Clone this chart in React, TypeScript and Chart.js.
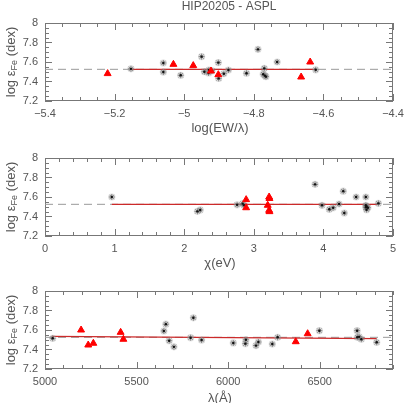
import React, { useEffect, useRef } from "react";
import { Chart, registerables } from "chart.js";
Chart.register(...registerables);

const FONT = "'Liberation Sans', 'DejaVu Sans', sans-serif";
const TEXT = "#555";

const chartTitle = "HIP20205 - ASPL";
const meanFe = 7.525;
const yLimits = [7.2, 8];
const yTicks = [7.2, 7.4, 7.6, 7.8, 8];

// Panel 1: log(EW/lambda)
const ewLimits = [-5.4, -4.4];
const ewTicks = [-5.4, -5.2, -5, -4.8, -4.6, -4.4];
const ewStarX = [-5.153, -5.06, -5.06, -5.01, -4.95, -4.942, -4.93, -4.929, -4.92, -4.902, -4.901, -4.886, -4.873, -4.821, -4.788, -4.773, -4.77, -4.768, -4.765, -4.733, -4.622];
const ewStarY = [7.53, 7.59, 7.497, 7.464, 7.655, 7.5, 7.487, 7.518, 7.51, 7.594, 7.432, 7.48, 7.518, 7.485, 7.73, 7.475, 7.535, 7.46, 7.45, 7.6, 7.52];
const ewTriX = [-5.22, -5.031, -4.974, -4.923, -4.902, -4.664, -4.638];
const ewTriY = [7.481, 7.576, 7.563, 7.508, 7.47, 7.446, 7.6];
const ewFitX = [-5.153, -4.622];
const ewFitY = [7.525, 7.525];

// Panel 2: excitation potential chi (eV)
const chiLimits = [0, 5];
const chiTicks = [0, 1, 2, 3, 4, 5];
const chiStarX = [0.96, 2.19, 2.23, 2.76, 2.84, 2.86, 3.88, 3.98, 4.085, 4.14, 4.225, 4.285, 4.3, 4.47, 4.61, 4.61, 4.61, 4.62, 4.62, 4.64, 4.79];
const chiStarY = [7.6, 7.453, 7.467, 7.52, 7.532, 7.515, 7.73, 7.515, 7.474, 7.49, 7.528, 7.66, 7.436, 7.6, 7.6, 7.515, 7.495, 7.47, 7.505, 7.49, 7.535];
const chiTriX = [2.89, 2.89, 3.2, 3.22, 3.225, 3.22, 3.225];
const chiTriY = [7.573, 7.49, 7.515, 7.6, 7.585, 7.464, 7.45];
const chiFitX = [0.96, 4.79];
const chiFitY = [7.525, 7.525];

// Panel 3: wavelength (Angstrom)
const lamLimits = [5000, 6900];
const lamTicks = [5000, 5500, 6000, 6500];
const lamStarX = [5042, 5649, 5660, 5678, 5704, 5795, 5810, 5855, 6028, 6094, 6097, 6152, 6165, 6241, 6270, 6498, 6704, 6705, 6715, 6727, 6811];
const lamStarY = [7.515, 7.59, 7.66, 7.49, 7.427, 7.521, 7.725, 7.497, 7.467, 7.46, 7.5, 7.44, 7.477, 7.456, 7.525, 7.593, 7.593, 7.525, 7.53, 7.505, 7.474];
const lamTriX = [5197, 5236, 5264, 5413, 5428, 6369, 6434];
const lamTriY = [7.6, 7.446, 7.464, 7.576, 7.505, 7.48, 7.562];
const lamFitX = [5036, 6811];
const lamFitY = [7.535, 7.511];

const pts = (xs: number[], ys: number[]) => xs.map((x, i) => ({ x, y: ys[i] }));

const fmt = (v: number) => {
  const r = Math.round(v * 1000) / 1000;
  return String(r).replace("-", "\u2212");
};

const framePlugin = {
  id: "frame",
  beforeDatasetsDraw(chart: any, _a: any, opts: any) {
    const { ctx, chartArea: a, scales } = chart;
    ctx.save();
    ctx.strokeStyle = "#777";
    ctx.lineWidth = 1;
    ctx.strokeRect(a.left + 0.5, a.top + 0.5, a.right - a.left - 1, a.bottom - a.top - 1);
    const line = (x1: number, y1: number, x2: number, y2: number) => {
      ctx.beginPath();
      ctx.moveTo(x1, y1);
      ctx.lineTo(x2, y2);
      ctx.stroke();
    };
    const drawTicks = (sc: any, minor: number, major: number, horiz: boolean) => {
      const n0 = Math.ceil(sc.min / minor - 1e-6);
      const n1 = Math.floor(sc.max / minor + 1e-6);
      for (let n = n0; n <= n1; n++) {
        const v = n * minor;
        const q = v / major;
        const isMajor = Math.abs(q - Math.round(q)) < 1e-6;
        const len = isMajor ? 7 : 4;
        const p = Math.round(sc.getPixelForValue(v)) + 0.5;
        if (horiz) {
          line(p, a.bottom, p, a.bottom - len);
          line(p, a.top, p, a.top + len);
        } else {
          line(a.left, p, a.left + len, p);
          line(a.right, p, a.right - len, p);
        }
      }
    };
    drawTicks(scales.x, opts.xMinor, opts.xMajor, true);
    drawTicks(scales.y, 0.05, 0.2, false);
    ctx.restore();
  },
  afterDraw(chart: any, _a: any, opts: any) {
    const { ctx, chartArea: a } = chart;
    ctx.save();
    ctx.fillStyle = TEXT;
    ctx.textAlign = "center";
    ctx.textBaseline = "middle";
    const cx = (a.left + a.right) / 2;
    if (opts.title) {
      ctx.font = `12px ${FONT}`;
      ctx.fillText(opts.title, cx + 10, 7);
    }
    ctx.font = `13px ${FONT}`;
    ctx.fillText(opts.xLabel, cx + 1, opts.xLabelY);
    const cy = (a.top + a.bottom) / 2;
    ctx.translate(11, cy);
    ctx.rotate(-Math.PI / 2);
    const big = `13px ${FONT}`;
    const small = `9px ${FONT}`;
    const p1 = "log \u03b5";
    const p2 = "Fe";
    const p3 = " (dex)";
    ctx.font = big;
    const w1 = ctx.measureText(p1).width;
    const w3 = ctx.measureText(p3).width;
    ctx.font = small;
    const w2 = ctx.measureText(p2).width;
    let x = -(w1 + w2 + w3) / 2;
    ctx.textAlign = "left";
    ctx.font = big;
    ctx.fillText(p1, x, 0);
    x += w1;
    ctx.font = small;
    ctx.fillText(p2, x, 4);
    x += w2;
    ctx.font = big;
    ctx.fillText(p3, x, 0);
    ctx.restore();
  },
};

type PanelProps = {
  top: number;
  limits: number[];
  ticks: number[];
  xMajor: number;
  xMinor: number;
  starX: number[];
  starY: number[];
  triX: number[];
  triY: number[];
  fitX: number[];
  fitY: number[];
  xLabel: string;
  xLabelY: number;
  title?: string;
};

function Panel(p: PanelProps) {
  const ref = useRef<HTMLCanvasElement>(null);
  useEffect(() => {
    if (!ref.current) return;
    const stars = pts(p.starX, p.starY);
    const tris = pts(p.triX, p.triY);
    const chart = new Chart(ref.current, {
      type: "scatter",
      data: {
        datasets: [
          {
            data: pts(p.limits, [meanFe, meanFe]),
            showLine: true,
            borderColor: "#9a9a9a",
            borderWidth: 1,
            borderDash: [8, 5],
            pointRadius: 0,
            order: 6,
          } as any,
          {
            data: pts(p.fitX, p.fitY),
            showLine: true,
            borderColor: "#cc2a2a",
            borderWidth: 1.3,
            pointRadius: 0,
            order: 5,
          } as any,
          {
            data: stars,
            pointStyle: "circle",
            pointRadius: 3.6,
            backgroundColor: "rgba(140,140,140,0.3)",
            borderWidth: 0,
            order: 4,
          } as any,
          {
            data: stars,
            pointStyle: "star",
            pointRadius: 3,
            borderColor: "#888",
            borderWidth: 1,
            order: 3,
          } as any,
          {
            data: stars,
            pointStyle: "circle",
            pointRadius: 1.2,
            backgroundColor: "#111",
            borderWidth: 0,
            order: 2,
          } as any,
          {
            data: tris,
            pointStyle: "triangle",
            pointRadius: 4,
            backgroundColor: "#ff0000",
            borderColor: "#ff0000",
            borderWidth: 1,
            order: 1,
          } as any,
        ],
      },
      options: {
        responsive: false,
        animation: false,
        devicePixelRatio: 1,
        events: [],
        layout: { padding: { top: 23, right: 22, left: 0, bottom: 0 } },
        plugins: {
          legend: { display: false },
          tooltip: { enabled: false },
          title: { display: false },
          frame: { xMajor: p.xMajor, xMinor: p.xMinor, xLabel: p.xLabel, xLabelY: p.xLabelY, title: p.title },
        } as any,
        scales: {
          x: {
            type: "linear",
            min: p.limits[0],
            max: p.limits[1],
            grid: { display: false, drawTicks: false },
            border: { display: false },
            afterBuildTicks: (s: any) => {
              s.ticks = p.ticks.map((v) => ({ value: v }));
            },
            ticks: {
              padding: 6,
              maxRotation: 0,
              autoSkip: false,
              color: TEXT,
              font: { family: FONT, size: 11 },
              callback: (v: any) => fmt(Number(v)),
            },
            afterFit: (s: any) => {
              s.height = 34;
            },
          },
          y: {
            type: "linear",
            min: yLimits[0],
            max: yLimits[1],
            grid: { display: false, drawTicks: false },
            border: { display: false },
            afterBuildTicks: (s: any) => {
              s.ticks = yTicks.map((v) => ({ value: v }));
            },
            ticks: {
              padding: 7,
              autoSkip: false,
              color: TEXT,
              font: { family: FONT, size: 11 },
              callback: (v: any) => fmt(Number(v)),
            },
            afterFit: (s: any) => {
              s.width = 45;
            },
          },
        },
      },
      plugins: [framePlugin as any],
    });
    return () => chart.destroy();
  }, []);
  return (
    <canvas
      ref={ref}
      width={415}
      height={135}
      style={{ position: "absolute", left: 0, top: p.top, width: 415, height: 135, display: "block" }}
    />
  );
}

export default function App() {
  return (
    <div style={{ position: "fixed", left: 0, top: 0, width: 415, height: 415, background: "#fff" }}>
      <Panel
        top={0}
        limits={ewLimits}
        ticks={ewTicks}
        xMajor={0.2}
        xMinor={0.05}
        starX={ewStarX}
        starY={ewStarY}
        triX={ewTriX}
        triY={ewTriY}
        fitX={ewFitX}
        fitY={ewFitY}
        xLabel={"log(EW/\u03bb)"}
        xLabelY={128}
        title={chartTitle}
      />
      <Panel
        top={135}
        limits={chiLimits}
        ticks={chiTicks}
        xMajor={1}
        xMinor={0.2}
        starX={chiStarX}
        starY={chiStarY}
        triX={chiTriX}
        triY={chiTriY}
        fitX={chiFitX}
        fitY={chiFitY}
        xLabel={"\u03c7(eV)"}
        xLabelY={128}
      />
      <Panel
        top={268}
        limits={lamLimits}
        ticks={lamTicks}
        xMajor={500}
        xMinor={100}
        starX={lamStarX}
        starY={lamStarY}
        triX={lamTriX}
        triY={lamTriY}
        fitX={lamFitX}
        fitY={lamFitY}
        xLabel={"\u03bb(\u00c5)"}
        xLabelY={130}
      />
    </div>
  );
}
